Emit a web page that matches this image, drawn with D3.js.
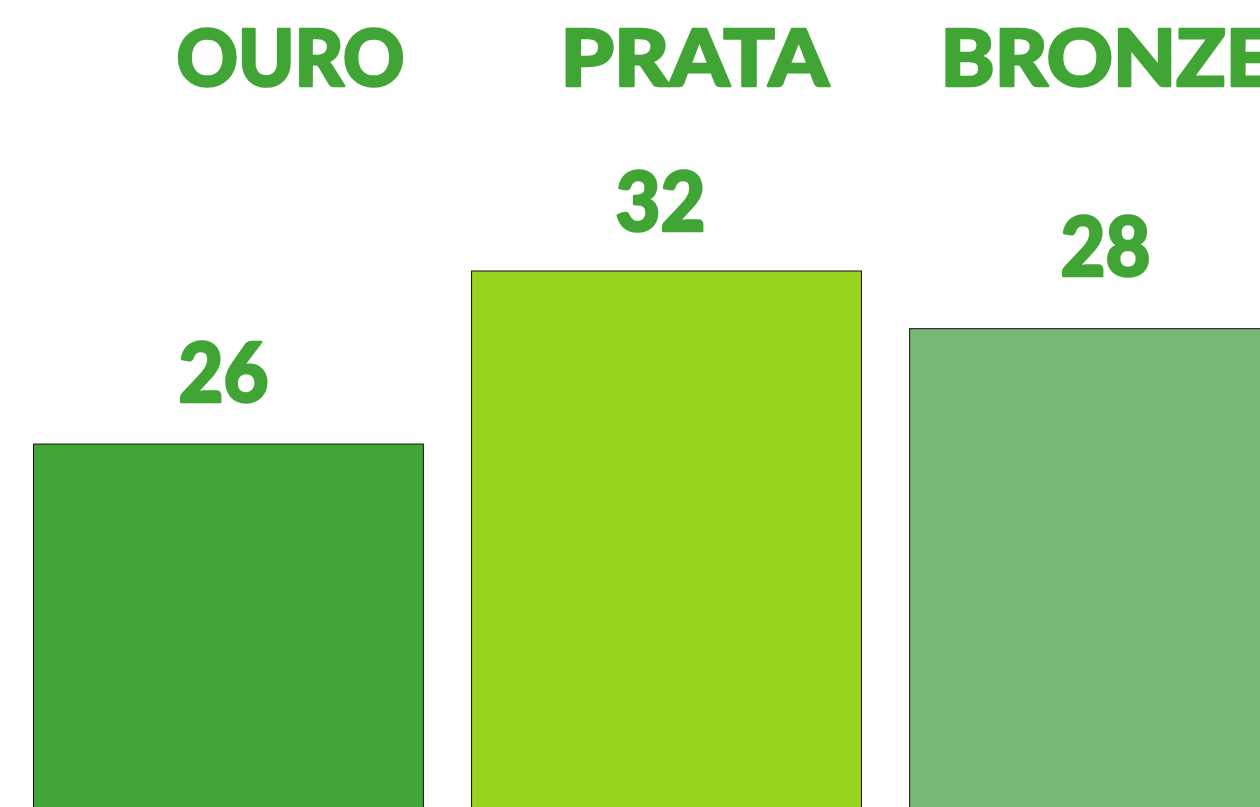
<!DOCTYPE html>
<html>
<head>
<meta charset="utf-8">
<script src="https://cdn.jsdelivr.net/npm/d3@7"></script>
<style>
    html, body { margin: 0; padding: 0; background: #ffffff; overflow: hidden; }
    svg { display: block; }
</style>
</head>
<body>
<div id="chart"></div>
<script>
// Medal categories and the counts written above the bars
const categories = ["OURO", "PRATA", "BRONZE"];
const medalCounts = [26, 32, 28];
// Bar levels as drawn in the picture (third bar is drawn taller than its label)
const barValues = [26, 32, 30];
const barColors = ["#41a535", "#98d31d", "#78b874"];

const width = 1260, height = 807;
const textColor = "#41a535";

const svg = d3.select("#chart")
    .append("svg")
    .attr("width", width)
    .attr("height", height);

// X scale - bars run past the right edge, like in the original
const xScale = d3.scaleBand()
    .domain(categories)
    .range([33.5, 1299.5])
    .paddingInner(0.11)
    .paddingOuter(0);

// Y scale - baseline sits below the visible area
const yScale = d3.scaleLinear()
    .domain([0, 32])
    .range([1194, 271]);

// Bars
svg.selectAll(".bar")
    .data(categories)
    .enter()
    .append("rect")
    .attr("class", "bar")
    .attr("x", (d) => xScale(d))
    .attr("y", (d, i) => yScale(barValues[i]))
    .attr("width", xScale.bandwidth())
    .attr("height", (d, i) => yScale(0) - yScale(barValues[i]))
    .attr("fill", (d, i) => barColors[i])
    .attr("stroke", "#111")
    .attr("stroke-width", 1);

// Headers are placed by hand in the original, not centred on the bars
const headerOffset = [143, 89, 31];
const headerWidth = [228, 268, 332];

// stroke on the text thickens Lato towards the heavy geometric face of the original
svg.selectAll(".header")
    .data(categories)
    .enter()
    .append("text")
    .attr("class", "header")
    .attr("x", (d, i) => xScale(d) + headerOffset[i])
    .attr("y", 86)
    .attr("textLength", (d, i) => headerWidth[i])
    .attr("lengthAdjust", "spacingAndGlyphs")
    .attr("fill", textColor)
    .attr("stroke", textColor)
    .attr("stroke-width", 2.5)
    .attr("stroke-linejoin", "round")
    .style("font-family", "Lato, 'Noto Sans', sans-serif")
    .style("font-weight", 900)
    .style("font-size", "78px")
    .text((d) => d);

// Value labels above bars
const labelDx = [-5, -6, 1];
const labelDy = [-42, -40, -53];

svg.selectAll(".value")
    .data(categories)
    .enter()
    .append("text")
    .attr("class", "value")
    .attr("x", (d, i) => xScale(d) + xScale.bandwidth() / 2 + labelDx[i])
    .attr("y", (d, i) => yScale(barValues[i]) + labelDy[i])
    .attr("text-anchor", "middle")
    .attr("textLength", 90)
    .attr("lengthAdjust", "spacingAndGlyphs")
    .attr("fill", textColor)
    .attr("stroke", textColor)
    .attr("stroke-width", 2.5)
    .attr("stroke-linejoin", "round")
    .style("font-family", "Lato, 'Noto Sans', sans-serif")
    .style("font-weight", 900)
    .style("font-size", "81px")
    .text((d, i) => medalCounts[i]);
</script>
</body>
</html>
